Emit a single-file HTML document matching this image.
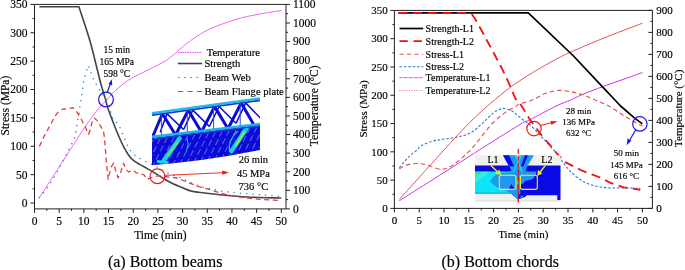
<!DOCTYPE html>
<html lang="en">
<head>
<meta charset="utf-8">
<title>Stress, strength and temperature histories</title>
<style>
html,body{margin:0;padding:0;background:#fff;}
body{width:685px;height:270px;overflow:hidden;}
svg{display:block;}
svg text{font-family:"Liberation Serif","Times New Roman",serif;fill:#000;stroke:#000;stroke-width:0.16px;}
</style>
</head>
<body>
<svg width="685" height="270" viewBox="0 0 685 270">
<rect width="685" height="270" fill="#fff"/>
<g id="left-plot">
<path d="M34.5 4.4 H286 V208.9 H34.5 Z" fill="none" stroke="#222" stroke-width="1" stroke-linejoin="miter"/>
<path d="M34.5 208.9v4M46.84 208.9v2M59.18 208.9v4M71.52 208.9v2M83.86 208.9v4M96.2 208.9v2M108.54 208.9v4M120.88 208.9v2M133.22 208.9v4M145.56 208.9v2M157.9 208.9v4M170.24 208.9v2M182.58 208.9v4M194.92 208.9v2M207.26 208.9v4M219.6 208.9v2M231.94 208.9v4M244.28 208.9v2M256.62 208.9v4M268.96 208.9v2M281.3 208.9v4" fill="none" stroke="#222" stroke-width="1"/>
<text x="34.5" y="225.3" font-size="11.5" text-anchor="middle">0</text>
<text x="59.18" y="225.3" font-size="11.5" text-anchor="middle">5</text>
<text x="83.86" y="225.3" font-size="11.5" text-anchor="middle">10</text>
<text x="108.54" y="225.3" font-size="11.5" text-anchor="middle">15</text>
<text x="133.22" y="225.3" font-size="11.5" text-anchor="middle">20</text>
<text x="157.9" y="225.3" font-size="11.5" text-anchor="middle">25</text>
<text x="182.58" y="225.3" font-size="11.5" text-anchor="middle">30</text>
<text x="207.26" y="225.3" font-size="11.5" text-anchor="middle">35</text>
<text x="231.94" y="225.3" font-size="11.5" text-anchor="middle">40</text>
<text x="256.62" y="225.3" font-size="11.5" text-anchor="middle">45</text>
<text x="281.3" y="225.3" font-size="11.5" text-anchor="middle">50</text>
<path d="M34.5 203h-4M34.5 188.81h-2M34.5 174.63h-4M34.5 160.44h-2M34.5 146.26h-4M34.5 132.07h-2M34.5 117.89h-4M34.5 103.7h-2M34.5 89.52h-4M34.5 75.33h-2M34.5 61.15h-4M34.5 46.97h-2M34.5 32.78h-4M34.5 18.59h-2M34.5 4.41h-4" fill="none" stroke="#222" stroke-width="1"/>
<text x="27.4" y="206.9" font-size="11.5" text-anchor="end">0</text>
<text x="27.4" y="178.53" font-size="11.5" text-anchor="end">50</text>
<text x="27.4" y="150.16" font-size="11.5" text-anchor="end">100</text>
<text x="27.4" y="121.79" font-size="11.5" text-anchor="end">150</text>
<text x="27.4" y="93.42" font-size="11.5" text-anchor="end">200</text>
<text x="27.4" y="65.05" font-size="11.5" text-anchor="end">250</text>
<text x="27.4" y="36.68" font-size="11.5" text-anchor="end">300</text>
<text x="27.4" y="8.31" font-size="11.5" text-anchor="end">350</text>
<path d="M286 208.9h4M286 199.61h2M286 190.31h4M286 181.02h2M286 171.72h4M286 162.43h2M286 153.13h4M286 143.84h2M286 134.54h4M286 125.25h2M286 115.95h4M286 106.66h2M286 97.36h4M286 88.06h2M286 78.77h4M286 69.47h2M286 60.18h4M286 50.88h2M286 41.59h4M286 32.29h2M286 23h4M286 13.7h2M286 4.41h4" fill="none" stroke="#222" stroke-width="1"/>
<text x="293" y="212.8" font-size="11.5" text-anchor="start">0</text>
<text x="293" y="194.21" font-size="11.5" text-anchor="start">100</text>
<text x="293" y="175.62" font-size="11.5" text-anchor="start">200</text>
<text x="293" y="157.03" font-size="11.5" text-anchor="start">300</text>
<text x="293" y="138.44" font-size="11.5" text-anchor="start">400</text>
<text x="293" y="119.85" font-size="11.5" text-anchor="start">500</text>
<text x="293" y="101.26" font-size="11.5" text-anchor="start">600</text>
<text x="293" y="82.67" font-size="11.5" text-anchor="start">700</text>
<text x="293" y="64.08" font-size="11.5" text-anchor="start">800</text>
<text x="293" y="45.49" font-size="11.5" text-anchor="start">900</text>
<text x="293" y="26.9" font-size="11.5" text-anchor="start">1000</text>
<text x="293" y="8.31" font-size="11.5" text-anchor="start">1100</text>
<text transform="translate(8.5 105.6) rotate(-90)" font-size="11.5" text-anchor="middle">Stress (MPa)</text>
<text transform="translate(318.2 105.8) rotate(-90)" font-size="11.5" text-anchor="middle">Temperature (°C)</text>
<text x="160.4" y="239.4" font-size="11.5" text-anchor="middle">Time (min)</text>
<text x="165.2" y="266.5" font-size="16" text-anchor="middle">(a) Bottom beams</text>
<path d="M39.4 197.6 C41 195.12 45.57 188.03 49 182.7 C52.43 177.37 55.77 172.17 60 165.6 C64.23 159.03 70.57 149.23 74.4 143.3 C78.23 137.37 80.5 133.78 83 130 C85.5 126.22 87 123.95 89.4 120.6 C91.8 117.25 94.7 113.17 97.4 109.9 C100.1 106.63 102.88 103.95 105.6 101 C108.32 98.05 110.63 95.15 113.7 92.2 C116.77 89.25 120.78 85.77 124 83.3 C127.22 80.83 130.02 79.12 133 77.4 C135.98 75.68 139.07 74.4 141.9 73 C144.73 71.6 147.65 70.17 150 69 C152.35 67.83 153.33 67.42 156 66 C158.67 64.58 163.33 62.17 166 60.5 C168.67 58.83 168.9 58.53 172 56 C175.1 53.47 180.4 48.63 184.6 45.3 C188.8 41.97 193 38.72 197.2 36 C201.4 33.28 205.6 31 209.8 29 C214 27 218.2 25.57 222.4 24 C226.6 22.43 230.8 20.87 235 19.6 C239.2 18.33 243.43 17.35 247.6 16.4 C251.77 15.45 255.8 14.67 260 13.9 C264.2 13.13 269.25 12.37 272.8 11.8 C276.35 11.23 279.88 10.72 281.3 10.5" fill="none" stroke="#ee55ee" stroke-width="0.9" stroke-linejoin="round"/>
<path d="M39.4 6.7 L78.9 6.7 L78.9 6.7 C80.7 12.25 86.62 29.45 89.7 40 C92.78 50.55 95.5 62.53 97.4 70 C99.3 77.47 99.73 79.87 101.1 84.8 C102.47 89.73 104.37 95.4 105.6 99.6 C106.83 103.8 106.03 103.27 108.5 110 C110.97 116.73 117.18 132.67 120.4 140 C123.62 147.33 125.58 150.55 127.8 154 C130.02 157.45 131 158.58 133.7 160.7 C136.4 162.82 140.78 164.83 144 166.7 C147.22 168.57 149.53 169.8 153 171.9 C156.47 174 161.63 177.4 164.8 179.3 C167.97 181.2 169.13 181.93 172 183.3 C174.87 184.67 178.67 186.17 182 187.5 C185.33 188.83 188.22 190.38 192 191.3 C195.78 192.22 199.63 192.38 204.7 193 C209.77 193.62 215.25 194.33 222.4 195 C229.55 195.67 237.78 196.5 247.6 197 C257.42 197.5 275.68 197.83 281.3 198" fill="none" stroke="#444" stroke-width="1.6" stroke-linejoin="round"/>
<path d="M39.4 197.6 L49 185.5 L56.7 173 L65 157 L70 147 L74.3 139 L75.6 133.3 L76.7 126.7 L77.4 120.7 L78.9 114.8 L79.6 108.5 L80.7 101.9 L81.6 96 L82.6 89.3 L83.3 83.3 L84.8 76.7 L86.5 70.8 L88.2 65.4 L90 69.8 L92.2 76 L94.4 81 L97.4 86.3 L101.1 92.2 L104.5 97 L107.8 102 L109.3 106.3 L111.5 114 L113.3 120 L118.1 123.7 L120.8 129.3 L123 135 L125.6 140.7 L128 146.7 L131.5 152 L136 156.3 L141.1 159.3 L147 162.2 L158 167.4 L163.3 170.4 L168.5 173.3 L180 177.5 L187 181 L196 185 L204.7 187.6 L222.4 191.3 L247.6 193.9 L281.3 196.4" fill="none" stroke="#2f7fe0" stroke-width="1.5" stroke-dasharray="0.01 6.3" stroke-linecap="round" stroke-linejoin="round"/>
<path d="M39.4 146.4 L44.8 135 L49.3 126.9 L54.4 117.2 L57 113.5 L59.6 110.8 L63.3 109 L68.5 108.6 L73 107.6 L75.2 109.8 L78.9 115 L82.6 121.7 L85.6 127.6 L87.8 132.8 L88.6 134.3 L90 130.6 L92.2 121.7 L94.4 118 L97.4 120.9 L101.1 126.9 L103.3 130.6 L104.4 137 L105.6 151.9 L106.3 162.2 L107.3 171 L108.2 179.3 L110.7 168 L113.7 163 L114.4 166 L116.7 174 L118.1 177.8 L120.4 173.3 L122.6 166 L123.6 163.4 L126.3 169.6 L128.5 171.9 L133.7 170.4 L135.9 172.6 L141.1 174 L144 174.8 L147 179.3 L153 177 L158.9 175.6 L165 176.5 L177 178 L187 182 L197 186 L209.8 189.6 L222 193.5 L235 196.4 L247.6 198 L260 199.4 L281.3 200.5" fill="none" stroke="#e33c3c" stroke-width="1.3" stroke-dasharray="5 3.6" stroke-linejoin="round"/>
<path d="M177.8 52.5H202.2" fill="none" stroke="#ee55ee" stroke-width="1" stroke-dasharray="1.6 0.8" stroke-linejoin="round"/>
<path d="M177.8 63.5H202.2" fill="none" stroke="#444" stroke-width="1.6" stroke-linejoin="round"/>
<path d="M178.9 77.5H198" fill="none" stroke="#2f7fe0" stroke-width="1.6" stroke-dasharray="0.01 6.1" stroke-linecap="round" stroke-linejoin="round"/>
<path d="M177.8 91.5H202.2" fill="none" stroke="#ee3c3c" stroke-width="1.2" stroke-dasharray="5.5 4" stroke-linejoin="round"/>
<text x="206.7" y="55.7" font-size="10.6" text-anchor="start">Temperature</text>
<text x="204.4" y="67" font-size="10.6" text-anchor="start">Strength</text>
<text x="204.4" y="80.9" font-size="10.6" text-anchor="start">Beam Web</text>
<text x="204.4" y="94.6" font-size="10.6" text-anchor="start">Beam Flange plate</text>
<text x="116.8" y="52.8" font-size="9.5" text-anchor="middle">15 min</text>
<text x="116.8" y="64.6" font-size="9.5" text-anchor="middle">165 MPa</text>
<text x="116.8" y="76.7" font-size="9.5" text-anchor="middle">598 °C</text>
<circle cx="106" cy="99.5" r="7.4" fill="none" stroke="#1414e6" stroke-width="1.2"/>
<path d="M107.3 92.2L110.6 83" fill="none" stroke="#1414e6" stroke-width="1.2" stroke-linejoin="round"/>
<path d="M111.8 79.2L112.2 85.2L108.6 83.9Z" fill="#1414e6"/>
<text x="253.4" y="163.3" font-size="10.5" text-anchor="middle">26 min</text>
<text x="253.4" y="176.6" font-size="10.5" text-anchor="middle">45 MPa</text>
<text x="253.4" y="189.9" font-size="10.5" text-anchor="middle">736 °C</text>
<circle cx="157.4" cy="176.3" r="7.4" fill="none" stroke="#f01818" stroke-width="1.2"/>
<path d="M164.7 175.4L223 172.7" fill="none" stroke="#f01818" stroke-width="0.9" stroke-linejoin="round"/>
<path d="M229 172.4L222.3 174.7L222.1 170.6Z" fill="#f01818"/>
<g id="inset-a">
<defs><clipPath id="plateclip"><path d="M152 138L260 125V150Q207 161 152 165.2Z"/></clipPath><clipPath id="insetclip"><rect x="152" y="94" width="108" height="74"/></clipPath></defs>
<g clip-path="url(#insetclip)">
<path d="M166.9 113.66L160.2 132.33M166.9 113.66L183.6 129.55M192.8 110.11L183.6 129.55M192.8 110.11L209.4 126.5M219.1 106.5L209.4 126.5M219.1 106.5L236 123.34M245.7 102.86L236 123.34M245.7 102.86L262.4 120.22" fill="none" stroke="#0a0ad2" stroke-width="1.5" stroke-linejoin="round"/>
<path d="M162.4 113.77L152.2 137.78M162.4 113.77L175.6 135M188.3 110.23L175.6 135M188.3 110.23L201.4 131.95M214.6 106.62L201.4 131.95M214.6 106.62L228 128.79M241.2 102.98L228 128.79M241.2 102.98L254.4 125.66" fill="none" stroke="#0a0ad2" stroke-width="3" stroke-linejoin="round"/>
<path d="M161.4 112.91L161.4 136.69M187.3 109.36L187.3 133.62M213.6 105.76L213.6 130.5M240.2 102.11L240.2 127.35" fill="none" stroke="#2a4ce0" stroke-width="1" stroke-linejoin="round"/>
<path d="M152 115.2L260 100.4" fill="none" stroke="#0c34d8" stroke-width="1.8" stroke-linejoin="round"/>
<path d="M152 113.3L260 98.5" fill="none" stroke="#22b8e8" stroke-width="2.4" stroke-linejoin="round"/>
<path d="M152 138L260 125V150Q207 161 152 165.2Z" fill="#0c0cd8"/>
<g clip-path="url(#plateclip)">
<path d="M117.4 172.2l15 -30M124.3 171.4l15 -30M131.2 170.6l15 -30M138.1 169.8l15 -30M145 169l15 -30M151.9 168.2l15 -30M158.8 167.4l15 -30M165.7 166.6l15 -30M172.6 165.8l15 -30M179.5 165l15 -30M186.4 164.2l15 -30M193.3 163.4l15 -30M200.2 162.6l15 -30M207.1 161.8l15 -30M214 161l15 -30M220.9 160.2l15 -30M227.8 159.4l15 -30M234.7 158.6l15 -30M241.6 157.8l15 -30M248.5 157l15 -30M255.4 156.2l15 -30M262.3 155.4l15 -30M269.2 154.6l15 -30M276.1 153.8l15 -30M283 153l15 -30M289.9 152.2l15 -30" fill="none" stroke="#8e92f0" stroke-width="0.75" stroke-dasharray="6.4 3" stroke-linejoin="round"/>
<path d="M163.5 161L179.5 138.5" fill="none" stroke="#16cfea" stroke-width="4.6" stroke-linecap="round" stroke-linejoin="round"/>
<path d="M168 155.5L177.5 142.5" fill="none" stroke="#7ee23c" stroke-width="1.7" stroke-linecap="round" stroke-linejoin="round"/>
<path d="M158 161.5L167 162.5" fill="none" stroke="#16cfea" stroke-width="3" stroke-linecap="round" stroke-linejoin="round"/>
<path d="M231.5 151L246.5 128.5" fill="none" stroke="#16cfea" stroke-width="4.6" stroke-linecap="round" stroke-linejoin="round"/>
<path d="M236 145.5L244.5 132" fill="none" stroke="#a2e82a" stroke-width="1.9" stroke-linecap="round" stroke-linejoin="round"/>
<path d="M229.5 152Q227.5 140 238 131" fill="none" stroke="#16cfea" stroke-width="1.1" stroke-linejoin="round"/>
<path d="M186.5 151Q189.5 144 187 138" fill="none" stroke="#16cfea" stroke-width="1" stroke-linejoin="round"/>
</g>
<path d="M152 136.8L260 124" fill="none" stroke="#1fb4e8" stroke-width="2.6" stroke-linejoin="round"/>
<path d="M152 138.8L260 126" fill="none" stroke="#0c50dc" stroke-width="1.2" stroke-linejoin="round"/>
</g>
</g>
</g>
<g id="right-plot">
<path d="M394.4 10.4 H652.4 V208.4 H394.4 Z" fill="none" stroke="#222" stroke-width="1" stroke-linejoin="miter"/>
<path d="M394.4 208.4v4M406.8 208.4v2M419.2 208.4v4M431.6 208.4v2M444 208.4v4M456.4 208.4v2M468.8 208.4v4M481.2 208.4v2M493.6 208.4v4M506 208.4v2M518.4 208.4v4M530.8 208.4v2M543.2 208.4v4M555.6 208.4v2M568 208.4v4M580.4 208.4v2M592.8 208.4v4M605.2 208.4v2M617.6 208.4v4M630 208.4v2M642.4 208.4v4" fill="none" stroke="#222" stroke-width="1"/>
<text x="394.4" y="223.9" font-size="11" text-anchor="middle">0</text>
<text x="419.2" y="223.9" font-size="11" text-anchor="middle">5</text>
<text x="444" y="223.9" font-size="11" text-anchor="middle">10</text>
<text x="468.8" y="223.9" font-size="11" text-anchor="middle">15</text>
<text x="493.6" y="223.9" font-size="11" text-anchor="middle">20</text>
<text x="518.4" y="223.9" font-size="11" text-anchor="middle">25</text>
<text x="543.2" y="223.9" font-size="11" text-anchor="middle">30</text>
<text x="568" y="223.9" font-size="11" text-anchor="middle">35</text>
<text x="592.8" y="223.9" font-size="11" text-anchor="middle">40</text>
<text x="617.6" y="223.9" font-size="11" text-anchor="middle">45</text>
<text x="642.4" y="223.9" font-size="11" text-anchor="middle">50</text>
<path d="M394.4 208.4h-4M394.4 194.26h-2M394.4 180.12h-4M394.4 165.97h-2M394.4 151.83h-4M394.4 137.69h-2M394.4 123.55h-4M394.4 109.4h-2M394.4 95.26h-4M394.4 81.12h-2M394.4 66.98h-4M394.4 52.83h-2M394.4 38.69h-4M394.4 24.55h-2M394.4 10.41h-4" fill="none" stroke="#222" stroke-width="1"/>
<text x="387.8" y="212.1" font-size="11" text-anchor="end">0</text>
<text x="387.8" y="183.81" font-size="11" text-anchor="end">50</text>
<text x="387.8" y="155.53" font-size="11" text-anchor="end">100</text>
<text x="387.8" y="127.25" font-size="11" text-anchor="end">150</text>
<text x="387.8" y="98.96" font-size="11" text-anchor="end">200</text>
<text x="387.8" y="70.68" font-size="11" text-anchor="end">250</text>
<text x="387.8" y="42.39" font-size="11" text-anchor="end">300</text>
<text x="387.8" y="14.11" font-size="11" text-anchor="end">350</text>
<path d="M652.4 208.4h-4M652.4 197.4h-2M652.4 186.4h-4M652.4 175.4h-2M652.4 164.4h-4M652.4 153.4h-2M652.4 142.4h-4M652.4 131.4h-2M652.4 120.4h-4M652.4 109.4h-2M652.4 98.4h-4M652.4 87.4h-2M652.4 76.4h-4M652.4 65.4h-2M652.4 54.4h-4M652.4 43.4h-2M652.4 32.4h-4M652.4 21.4h-2M652.4 10.4h-4" fill="none" stroke="#222" stroke-width="1"/>
<text x="656.2" y="212.1" font-size="11" text-anchor="start">0</text>
<text x="656.2" y="190.1" font-size="11" text-anchor="start">100</text>
<text x="656.2" y="168.1" font-size="11" text-anchor="start">200</text>
<text x="656.2" y="146.1" font-size="11" text-anchor="start">300</text>
<text x="656.2" y="124.1" font-size="11" text-anchor="start">400</text>
<text x="656.2" y="102.1" font-size="11" text-anchor="start">500</text>
<text x="656.2" y="80.1" font-size="11" text-anchor="start">600</text>
<text x="656.2" y="58.1" font-size="11" text-anchor="start">700</text>
<text x="656.2" y="36.1" font-size="11" text-anchor="start">800</text>
<text x="656.2" y="14.1" font-size="11" text-anchor="start">900</text>
<text transform="translate(367.3 109) rotate(-90)" font-size="11" text-anchor="middle">Stress (MPa)</text>
<text transform="translate(681.8 108.3) rotate(-90)" font-size="11" text-anchor="middle">Temperature (°C)</text>
<text x="523.3" y="237.6" font-size="11" text-anchor="middle">Time (min)</text>
<text x="500.2" y="266.5" font-size="16" text-anchor="middle">(b) Bottom chords</text>
<path d="M399.3 199.4 C406.75 191.17 435.18 159.73 444 150 C452.82 140.27 449.2 144.25 452.2 141 C455.2 137.75 458.53 134.12 462 130.5 C465.47 126.88 468.75 123.38 473 119.3 C477.25 115.22 483.35 109.68 487.5 106 C491.65 102.32 494.43 100.07 497.9 97.2 C501.37 94.33 504.62 91.57 508.3 88.8 C511.98 86.03 516.38 83.03 520 80.6 C523.62 78.17 526.55 76.33 530 74.2 C533.45 72.07 535.45 70.77 540.7 67.8 C545.95 64.83 555.62 59.4 561.5 56.4 C567.38 53.4 569.08 52.8 576 49.8 C582.92 46.8 591.93 42.83 603 38.4 C614.07 33.97 635.83 25.73 642.4 23.2" fill="none" stroke="#e45252" stroke-width="1" stroke-linejoin="round"/>
<path d="M399.3 200.8 C411.07 193.33 456.58 164.47 469.9 156 C483.22 147.53 470.85 155.25 479.2 150 C487.55 144.75 511.53 129.55 520 124.5 C528.47 119.45 523.95 122.78 530 119.7 C536.05 116.62 549.5 109.28 556.3 106 C563.1 102.72 566.48 101.9 570.8 100 C575.12 98.1 576.83 96.85 582.2 94.6 C587.57 92.35 596.08 89.07 603 86.5 C609.92 83.93 617.13 81.52 623.7 79.2 C630.27 76.88 639.28 73.7 642.4 72.6" fill="none" stroke="#c535f0" stroke-width="1" stroke-linejoin="round"/>
<path d="M399.3 167.6 C400.25 166.5 403.1 163.1 405 161 C406.9 158.9 408.7 156.83 410.7 155 C412.7 153.17 415.28 151.5 417 150 C418.72 148.5 418.58 147.42 421 146 C423.42 144.58 428.02 142.6 431.5 141.5 C434.98 140.4 438.45 139.98 441.9 139.4 C445.35 138.82 448.75 138.6 452.2 138 C455.65 137.4 459.13 136.92 462.6 135.8 C466.07 134.68 469.53 133.55 473 131.3 C476.47 129.05 479.95 125.42 483.4 122.3 C486.85 119.18 490.93 114.78 493.7 112.6 C496.47 110.42 498.2 109.88 500 109.2 C501.8 108.52 502.58 108.23 504.5 108.5 C506.42 108.77 509.05 109.42 511.5 110.8 C513.95 112.18 516.62 114.8 519.2 116.8 C521.78 118.8 524.8 121.1 527 122.8 C529.2 124.5 529.42 124.05 532.4 127 C535.38 129.95 541.08 136.35 544.9 140.5 C548.72 144.65 553.05 149.4 555.3 151.9 C557.55 154.4 556.85 153.4 558.4 155.5 C559.95 157.6 562.35 161.62 564.6 164.5 C566.85 167.38 568.97 170.05 571.9 172.8 C574.83 175.55 578.75 178.92 582.2 181 C585.65 183.08 589.13 184.25 592.6 185.3 C596.07 186.35 599.53 186.85 603 187.3 C606.47 187.75 609.25 187.88 613.4 188 C617.55 188.12 623.42 187.93 627.9 188 C632.38 188.07 638.23 188.33 640.3 188.4" fill="none" stroke="#2a78d8" stroke-width="1.1" stroke-dasharray="2.6 1.8" stroke-linejoin="round"/>
<path d="M399.3 168.7 C400.52 168.08 403.65 165.87 406.6 165 C409.55 164.13 413.55 163.5 417 163.5 C420.45 163.5 423.85 164.13 427.3 165 C430.75 165.87 434.92 168.03 437.7 168.7 C440.48 169.37 441.58 169.52 444 169 C446.42 168.48 449.1 167.55 452.2 165.6 C455.3 163.65 459.13 160.37 462.6 157.3 C466.07 154.23 469.53 151.05 473 147.2 C476.47 143.35 479.95 138.4 483.4 134.2 C486.85 130 490.27 125.47 493.7 122 C497.13 118.53 500.53 115.9 504 113.4 C507.47 110.9 511.83 108.58 514.5 107 C517.17 105.42 517.02 105.07 520 103.9 C522.98 102.73 528.25 101.72 532.4 100 C536.55 98.28 540.75 95.18 544.9 93.6 C549.05 92.02 553.15 90.85 557.3 90.5 C561.45 90.15 565.65 90.82 569.8 91.5 C573.95 92.18 578.05 93.22 582.2 94.6 C586.35 95.98 590.2 97.87 594.7 99.8 C599.2 101.73 604.37 103.57 609.2 106.2 C614.03 108.83 619.2 112.83 623.7 115.6 C628.2 118.37 633.08 121.07 636.2 122.8 C639.32 124.53 641.37 125.47 642.4 126" fill="none" stroke="#e44c4c" stroke-width="1.1" stroke-dasharray="4.5 3" stroke-linejoin="round"/>
<path d="M398.3 12.9 L528.3 12.9 L573.5 56 L603 87.3 L620.6 106 L634 117.6 L642.4 123.9" fill="none" stroke="#000" stroke-width="1.7" stroke-linejoin="round"/>
<path d="M398.3 12.9 L468 12.9 L472 14.5 L475 18.7 L480.2 28 L487.5 41.5 L494.8 55 L503 70.7 L509.3 84.2 L515.5 98.8 L519.7 103 L524.9 111.4 L530 119.7 L540.7 134.2 L554.2 150 L557.3 154 L565.6 162.4 L582.2 170.7 L598.8 177 L611.3 183.2 L623.7 187.3 L640.3 189.8" fill="none" stroke="#f01010" stroke-width="1.8" stroke-dasharray="9.1 5.58" stroke-linejoin="round"/>
<path d="M399.5 28.5H423.2" fill="none" stroke="#000" stroke-width="1.7" stroke-linejoin="round"/>
<path d="M399.5 41.2H422" fill="none" stroke="#f01010" stroke-width="1.8" stroke-dasharray="8.3 5.8" stroke-linejoin="round"/>
<path d="M399.5 54.2H423.2" fill="none" stroke="#e86060" stroke-width="1.1" stroke-dasharray="4.4 3" stroke-linejoin="round"/>
<path d="M399.5 66.7H423.2" fill="none" stroke="#2a78d8" stroke-width="1.1" stroke-dasharray="2.6 1.8" stroke-linejoin="round"/>
<path d="M399.5 77.7H423.2" fill="none" stroke="#d030f0" stroke-width="0.9" stroke-dasharray="3 0.6 0.8 0.6" stroke-linejoin="round"/>
<path d="M399.5 90.5H423.2" fill="none" stroke="#e86a6a" stroke-width="0.9" stroke-dasharray="0.9 1.5" stroke-linejoin="round"/>
<text x="425.6" y="31.8" font-size="10" text-anchor="start">Strength-L1</text>
<text x="425.6" y="44.5" font-size="10" text-anchor="start">Strength-L2</text>
<text x="425.6" y="57.5" font-size="10" text-anchor="start">Stress-L1</text>
<text x="425.6" y="70" font-size="10" text-anchor="start">Stress-L2</text>
<text x="425.6" y="81" font-size="10" text-anchor="start">Temperature-L1</text>
<text x="425.6" y="93.8" font-size="10" text-anchor="start">Temperature-L2</text>
<text x="578.7" y="114" font-size="9" text-anchor="middle">28 min</text>
<text x="578.7" y="125.4" font-size="9" text-anchor="middle">136 MPa</text>
<text x="578.7" y="136.3" font-size="9" text-anchor="middle">632 °C</text>
<circle cx="534" cy="128.6" r="7.2" fill="none" stroke="#f01818" stroke-width="1.2"/>
<path d="M541.2 125.2L552 122.6" fill="none" stroke="#f01818" stroke-width="1" stroke-linejoin="round"/>
<path d="M557.6 121.3L551.4 124.9L550.5 120.9Z" fill="#f01818"/>
<text x="626.4" y="156" font-size="9" text-anchor="middle">50 min</text>
<text x="626.4" y="167.5" font-size="9" text-anchor="middle">145 MPa</text>
<text x="626.4" y="179" font-size="9" text-anchor="middle">616 °C</text>
<circle cx="639.9" cy="123.9" r="7.2" fill="none" stroke="#1a1af0" stroke-width="1.2"/>
<path d="M635.6 130L629.6 140.3" fill="none" stroke="#1a1af0" stroke-width="1.2" stroke-linejoin="round"/>
<path d="M626.6 145.2L627.6 138.6L631.4 140.8Z" fill="#1a1af0"/>
<g id="inset-b">
<rect x="475" y="155.3" width="85.5" height="45.4" fill="#f0f0f0"/>
<rect x="475" y="200.5" width="85.5" height="0.9" fill="#cfcfcf"/>
<path d="M475 165.6H560.5V200H557.3V195.3H527L525.3 196.7L518 199.4L510.7 193.3H475Z" fill="#0a0ae6"/>
<path d="M475 171.3H518.3V193.3H475Z" fill="#0ce4f8"/>
<path d="M482 171.3H490.5L484 176.5L478.5 180.5L475 182.3V175.5L479 174.2Z" fill="#36ecdc"/>
<path d="M475 171.3H482.5L479 174.2L475 175.6Z" fill="#22e898"/>
<path d="M475 192.8H510.5V193.6H475Z" fill="#0a8ad0"/>
<path d="M490 181.3L494 176L500 173.3L508 172.6L512 171.3H518.3V193.3L518.2 199.3L510.7 193.3L506 190.6L498 188L494 185Z" fill="#1e96f2"/>
<path d="M518.3 171.3H536.8L535.4 175.5L532.7 179.3L525.3 180.7L523.3 183.4L520.3 184.3V193.6L518.3 195Z" fill="#1e96f2"/>
<path d="M509.4 165.6H527.2L525.5 171.6H511.5Z" fill="#1e96f2"/>
<path d="M475 171H509M528 171H560.5" stroke="#0606b8" stroke-width="0.6" fill="none"/>
<path d="M503 155.2H533.9L527.3 166.2H509Z" fill="#1e96f2"/>
<path d="M503 155.2H509L514 166.2H509Z" fill="#0a0ae6"/>
<path d="M525 155.2H527.9L523.6 166.2H520.8Z" fill="#0a0ae6"/>
<path d="M516.3 155.2H519.8L518.3 160.6Z" fill="#f0f0f0"/>
<path d="M515 155.2L518.3 161.5L521.8 172M521.6 155.2L518.3 161.5L513.6 171.5" stroke="#19dcf2" stroke-width="1.4" fill="none"/>
<path d="M508.7 189.6L511.4 184L514.8 189.6Z" fill="#0a0ae6"/>
<rect x="516.6" y="180.4" width="1.6" height="3.2" fill="#0ce4f8"/>
<rect x="520.6" y="195.8" width="2" height="1.6" fill="#0ce4f8"/>
<path d="M518.3 148.7V202.6" fill="none" stroke="#e81010" stroke-width="1.25" stroke-dasharray="5 2" stroke-linejoin="round"/>
<rect x="499.3" y="175.3" width="16.7" height="14.1" rx="2.2" fill="none" stroke="#f4f41e" stroke-width="1.1"/>
<rect x="520.4" y="175.3" width="16.9" height="14.1" rx="2.2" fill="none" stroke="#f4f41e" stroke-width="1.1"/>
<path d="M490.9 165.4L498 172.2" fill="none" stroke="#fae61e" stroke-width="1.4" stroke-linejoin="round"/>
<path d="M501.2 175.2L495.4 173.6L499.3 169.6Z" fill="#fae61e"/>
<path d="M545.4 165.4L540 172.3" fill="none" stroke="#fae61e" stroke-width="1.4" stroke-linejoin="round"/>
<path d="M537.2 176L538 170L542.4 173.4Z" fill="#fae61e"/>
<text x="493" y="163" font-size="10" text-anchor="middle" stroke="none">L1</text>
<text x="546.9" y="163" font-size="10" text-anchor="middle" stroke="none">L2</text>
</g>
</g>
</svg>
</body>
</html>
